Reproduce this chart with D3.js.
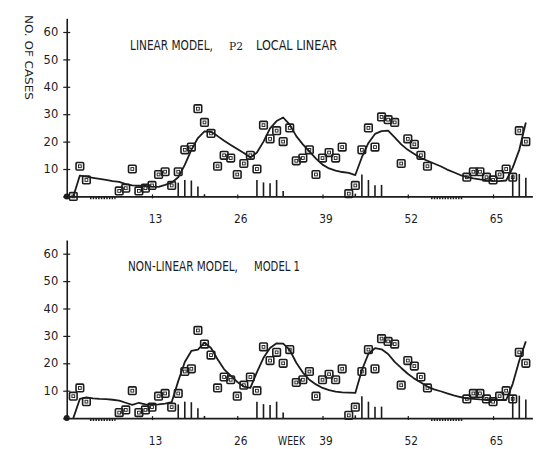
<!DOCTYPE html>
<html>
<head>
<meta charset="utf-8">
<script src="https://cdn.jsdelivr.net/npm/d3@7"></script>
<style>
  body { margin: 0; background: #fff; }
  text { font-family: "DejaVu Sans", sans-serif; fill: #1c1c1c; }
</style>
</head>
<body>
<script>
// weekly values, weeks 1..70 (null = no report that week)
const weeks = d3.range(1, 71);

const observed = [
  8, 11, 6, null, null, null, null, 2, 3, 10,
  2, 3, 4, 8, 9, 4, 9, 17, 18, 32,
  27, 23, 11, 15, 14, 8, 12, 15, 10, 26,
  21, 24, 20, 25, 13, 14, 17, 8, 14, 16,
  14, 18, 1, 4, 17, 25, 18, 29, 28, 27,
  12, 21, 19, 15, 11, null, null, null, null, null,
  7, 9, 9, 7, 6, 8, 10, 7, 24, 20
];
// the week-1 square sits on zero in the top panel
const week1Observed = [0, 8];

const fitLinear = [
  0, 7.6, 7.2, 6.8, 6.4, 6.0, 5.6, 5.3, 4.5, 4.0,
  3.9, 3.8, 3.6, 3.5, 4.2, 5.0, 7.0, 11.5, 17.0, 21.3,
  23.7, 23.6, 22.0, 20.3, 18.8, 17.3, 15.8, 14.2, 16.0, 20.0,
  24.8, 27.5, 28.8, 26.2, 22.0, 19.0, 16.4, 13.8, 11.6, 10.2,
  9.4, 8.9, 8.6, 7.8, 14.3, 19.5, 22.8, 23.8, 24.0, 21.5,
  19.0, 17.0, 15.5, 14.0, 13.0, 12.0, 11.0, 9.8, 8.8, 7.8,
  7.1, 6.6, 6.2, 5.9, 5.7, 5.6, 5.8, 10.5, 17.0, 27.0
];

const fitNonLinear = [
  0, 7.0, 7.6, 7.2, 7.0, 6.9, 6.7, 6.4, 5.6, 4.8,
  5.6, 5.0, 4.8, 5.0, 5.3, 5.8, 13.5, 20.5, 24.5, 25.0,
  27.5, 25.6, 21.5, 17.8, 15.5, 13.2, 11.5, 11.0, 16.8, 22.0,
  25.6, 27.3, 27.2, 24.9, 20.2, 16.6, 14.0, 12.3, 11.0, 10.2,
  9.7, 9.4, 9.3, 9.2, 17.5, 23.5, 25.5, 25.1, 23.4, 20.5,
  18.3, 16.2, 14.4, 13.0, 11.5, 10.5, 9.8, 9.0, 8.3, 7.7,
  7.2, 7.0, 6.8, 6.7, 6.6, 6.6, 6.6, 12.5, 21.0, 28.0
];

const barWeeks  = [17, 18, 19, 20, 21, 29, 30, 31, 32, 33, 44, 45, 46, 47, 48, 68, 69, 70];
const barValues = [5, 6, 5.8, 3.6, 0.8, 6, 5.1, 4.8, 6, 2, 1, 8, 6, 4.1, 4.2, 8, 8.2, 6.8];

// weeks without reports, hatched on the axis
const gapWeeks = [[4, 7], [56, 60]];

const xTicks = [13, 26, 39, 52, 65];
const yTicks = [10, 20, 30, 40, 50, 60];

const width = 547, height = 449;
const ink = "#1c1c1c";

const svg = d3.select("body").append("svg")
    .attr("width", width)
    .attr("height", height);

const x = d3.scaleLinear().domain([-0.6, 71]).range([62.8, 532.4]);

// squeeze a text to a given width (narrow plotter lettering)
function squeeze(sel, x0, y0, len) {
  sel.each(function() {
    const w = this.getComputedTextLength();
    d3.select(this)
      .attr("x", 0).attr("y", 0)
      .attr("transform", "translate(" + x0 + "," + y0 + ") scale(" + (len / w) + ",1)");
  });
}

const panels = [
  { base: 196.4, fit: fitLinear, first: week1Observed[0],
    titles: [
      { text: "LINEAR MODEL,", x: 130, len: 83 },
      { text: "P2", x: 229, len: 14, serif: true },
      { text: "LOCAL LINEAR", x: 256, len: 81 }
    ], titleY: 50, week: false },
  { base: 418.1, fit: fitNonLinear, first: week1Observed[1],
    titles: [
      { text: "NON-LINEAR MODEL,", x: 128, len: 110 },
      { text: "MODEL 1", x: 254, len: 46 }
    ], titleY: 270.5, week: true }
];

panels.forEach(function(p) {
  const y = d3.scaleLinear().domain([0, 65]).range([p.base, p.base - 178.1]);
  const g = svg.append("g");

  // x axis
  const xa = g.append("g")
      .attr("transform", "translate(0," + y(0) + ")")
      .attr("color", ink)
      .call(d3.axisBottom(x).tickValues(xTicks).tickSizeInner(2).tickSizeOuter(0));
  xa.attr("font-family", null).attr("font-size", 13);
  xa.select(".domain").attr("stroke-width", 1.6);
  xa.selectAll(".tick line").attr("y1", -2).attr("stroke-width", 1.2);
  xa.selectAll(".tick text")
      .attr("dy", null).attr("y", 27).attr("x", 3)
      .attr("textLength", 13.5).attr("lengthAdjust", "spacingAndGlyphs");

  // y axis
  const ya = g.append("g")
      .attr("transform", "translate(" + x(0) + ",0)")
      .attr("color", ink)
      .call(d3.axisLeft(y).tickValues(yTicks).tickSizeInner(3.5).tickSizeOuter(0).tickPadding(5));
  ya.attr("font-family", null).attr("font-size", 11.5);
  ya.select(".domain").attr("stroke-width", 1.6);
  ya.selectAll(".tick line").attr("x1", 3.5).attr("stroke-width", 1.2);

  // no-report stretches on the axis
  g.selectAll("line.gap")
    .data(gapWeeks)
    .enter()
    .append("line")
      .attr("x1", function(d) { return x(d[0] - 0.45); })
      .attr("x2", function(d) { return x(d[1] + 0.45); })
      .attr("y1", y(0) + 1.5)
      .attr("y2", y(0) + 1.5)
      .attr("stroke", ink)
      .attr("stroke-width", 2.6)
      .attr("stroke-dasharray", "1.5,1.2");

  // origin dot
  g.append("circle")
      .attr("cx", x(0)).attr("cy", y(0)).attr("r", 3)
      .attr("fill", ink);

  // spikes
  g.selectAll("line.bar")
    .data(barWeeks)
    .enter()
    .append("line")
      .attr("x1", function(d) { return x(d); })
      .attr("x2", function(d) { return x(d); })
      .attr("y1", y(0))
      .attr("y2", function(d, i) { return y(barValues[i]); })
      .attr("stroke", ink)
      .attr("stroke-width", 1.6);

  // fitted curve
  g.append("path")
      .datum(weeks)
      .attr("fill", "none")
      .attr("stroke", ink)
      .attr("stroke-width", 1.8)
      .attr("stroke-linejoin", "round")
      .attr("d", d3.line()
        .x(function(d) { return x(d); })
        .y(function(d, i) { return y(p.fit[i]); }));

  // observed squares
  const pts = weeks
    .map(function(w, i) { return { w: w, v: i === 0 ? p.first : observed[i] }; })
    .filter(function(d) { return d.v !== null; });

  const sq = g.selectAll("g.sq")
    .data(pts)
    .enter()
    .append("g")
      .attr("transform", function(d) { return "translate(" + x(d.w) + "," + y(d.v) + ")"; });
  sq.append("rect")
      .attr("x", -3.8).attr("y", -3.8).attr("width", 7.6).attr("height", 7.6)
      .attr("rx", 1)
      .attr("fill", "none").attr("stroke", ink).attr("stroke-width", 1.6);
  sq.append("rect")
      .attr("x", -1.4).attr("y", -1.4).attr("width", 2.8).attr("height", 2.8)
      .attr("fill", "none").attr("stroke", ink).attr("stroke-width", 0.9);

  // title
  p.titles.forEach(function(t) {
    const tx = g.append("text")
        .attr("font-size", t.serif ? 11 : 13.5)
        .style("font-family", t.serif ? "'DejaVu Serif', serif" : null)
        .text(t.text);
    squeeze(tx, t.x, p.titleY, t.len);
  });

  if (p.week) {
    const wk = g.append("text")
        .attr("font-size", 13)
        .text("WEEK");
    squeeze(wk, 278, y(0) + 27, 27);
  }
});

// vertical axis label
const yl = svg.append("text")
    .attr("font-size", 10)
    .text("NO. OF CASES");
yl.each(function() {
  const w = this.getComputedTextLength();
  d3.select(this).attr("transform", "translate(25,15) rotate(90) scale(" + (85 / w) + ",1)");
});
</script>
</body>
</html>
